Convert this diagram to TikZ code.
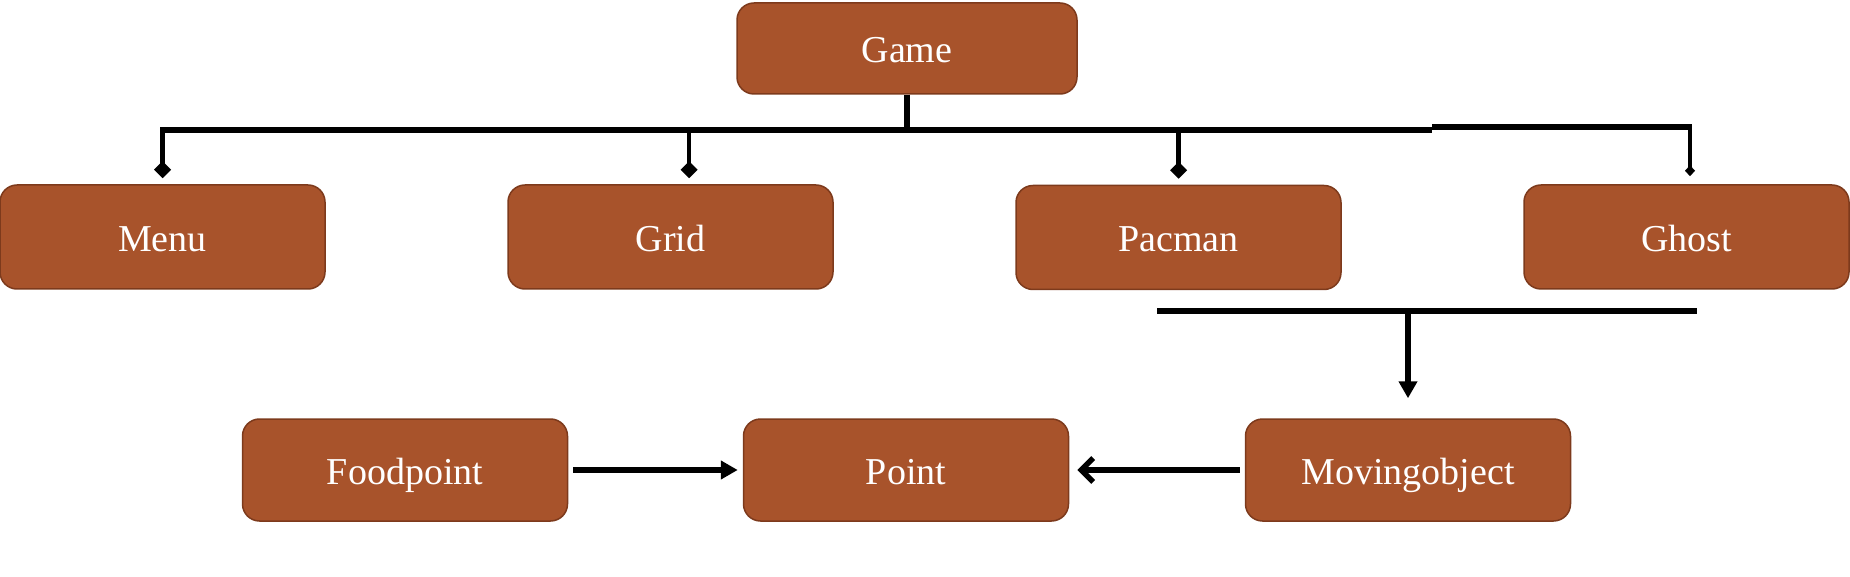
\documentclass[tikz,border=0pt]{standalone}
\usepackage{fontspec}
\setmainfont{Liberation Serif}
\usetikzlibrary{arrows.meta}
\definecolor{boxfill}{RGB}{168,83,43}
\definecolor{boxline}{RGB}{125,58,28}
\tikzset{
  cls/.style={draw=boxline, fill=boxfill, line width=1.5pt, rounded corners=17pt,
    minimum width=325pt, minimum height=104pt, inner sep=0pt, text=white,
    text height=37pt, text depth=8pt,
    font=\fontsize{38}{44}\selectfont},
  busline/.style={line width=5.5pt},
  dropline/.style={line width=4.5pt, -{Diamond[length=17pt,width=17pt]}},
  smalldrop/.style={line width=4.5pt, -{Diamond[length=11pt,width=10pt]}},
  solidarrow/.style={line width=5.5pt, -{Triangle[length=17pt,width=18pt]}},
  openarrow/.style={line width=5.5pt, -{Straight Barb[length=12pt,width=24pt,line width=5.5pt]}}
}
\begin{document}
\begin{tikzpicture}[x=1pt,y=-1pt]
\useasboundingbox (0,0) rectangle (1850,577);
\node[cls, minimum width=340pt, minimum height=91pt] (game) at (907,48.5) {Game};
\node[cls] (menu) at (162.5,237) {Menu};
\node[cls] (grid) at (670.5,237) {Grid};
\node[cls] (pacman) at (1178.5,237.5) {Pacman};
\node[cls] (ghost) at (1686.5,237) {Ghost};
\node[cls, minimum height=102pt] (food) at (405,470) {Foodpoint};
\node[cls, minimum height=102pt] (point) at (906,470) {Point};
\node[cls, minimum height=102pt] (moving) at (1408,470) {Movingobject};
% top bus
\coordinate (busL) at (160,130);
\coordinate (busStep) at (1432,130);
\coordinate (busStepUp) at (1432,127);
\coordinate (busR) at (1692,127);
\draw[busline] (game.south) -- (game.south |- busL);
\draw[busline] (busL) -- (busStep);
\draw[busline] (busStepUp) -- (busR);
\draw[dropline, shorten >=6pt] (menu.north |- busL) -- (menu.north);
\draw[dropline, shorten >=6pt] ([xshift=18.5pt]grid.north |- busL) -- ([xshift=18.5pt]grid.north);
\draw[dropline, shorten >=6pt] (pacman.north |- busL) -- (pacman.north);
\draw[smalldrop, shorten >=8pt] ([xshift=3.5pt]ghost.north |- busR) -- ([xshift=3.5pt]ghost.north);
% lower bus
\coordinate (lowL) at (1157,311);
\coordinate (lowR) at (1697,311);
\draw[busline] (lowL) -- (lowR);
\draw[solidarrow, shorten >=20pt] (moving.north |- lowL) -- (moving.north);
% bottom arrows
\draw[solidarrow, shorten <=5pt, shorten >=5pt] (food.east) -- (point.west);
\draw[openarrow, shorten <=5pt, shorten >=8pt] (moving.west) -- (point.east);
\end{tikzpicture}
\end{document}
